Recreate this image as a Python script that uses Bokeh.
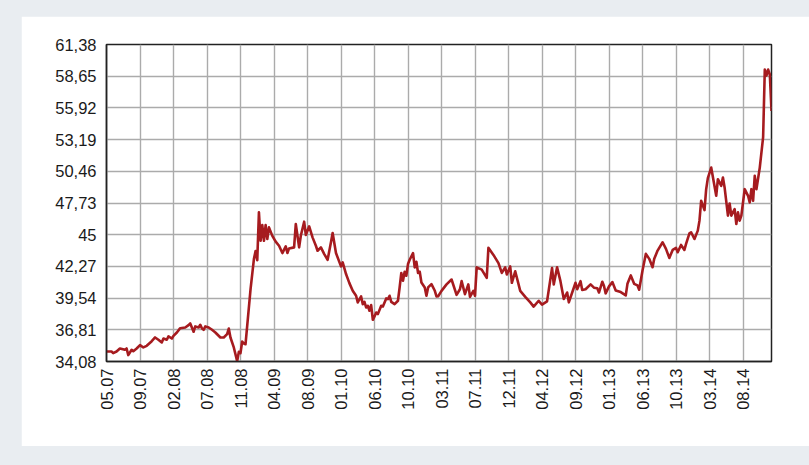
from bokeh.plotting import figure
from bokeh.models import FixedTicker, Range1d
from bokeh.embed import file_html
from bokeh.resources import INLINE
import math

# week index of each reading
weeks = [0, 3, 4, 6, 8, 11, 12, 13, 15, 16, 18, 20, 22, 24, 27, 29, 31, 33, 34, 36,
         37, 39, 40, 42, 44, 47, 49, 50, 52, 53, 55, 56, 57, 58, 59, 61, 63, 65, 68, 70,
         72, 73, 74, 76, 78, 79, 80, 81, 82, 83, 86, 88, 89, 90, 91, 92, 93, 94, 95, 96,
         97, 99, 101, 103, 105, 107, 108, 109, 112, 113, 115, 116, 118, 119, 121, 123, 125, 126, 128, 130,
         132, 134, 135, 137, 140, 141, 143, 145, 147, 149, 150, 152, 153, 154, 155, 156, 157, 158, 159, 160,
         161, 162, 164, 165, 167, 168, 169, 170, 172, 174, 175, 176, 177, 178, 179, 180, 181, 183, 184, 185,
         186, 187, 188, 190, 191, 192, 194, 196, 197, 198, 200, 203, 206, 209, 211, 212, 214, 216, 217, 219,
         220, 221, 224, 227, 228, 231, 234, 236, 238, 239, 241, 242, 244, 247, 250, 253, 255, 258, 260, 263,
         266, 267, 269, 271, 273, 275, 276, 280, 281, 283, 284, 286, 289, 291, 293, 294, 296, 297, 298, 300,
         302, 304, 307, 310, 311, 313, 315, 317, 318, 320, 322, 324, 326, 327, 329, 332, 334, 336, 338, 340,
         341, 343, 345, 346, 348, 349, 351, 353, 354, 355, 357, 358, 359, 361, 364, 365, 367, 368, 369, 371,
         372, 373, 375, 376, 377, 378, 379, 381, 383, 384, 385, 386, 387, 388, 390, 392, 393, 394, 395, 396,
         397]

prices = [34.94, 34.94, 34.80, 34.94, 35.20, 35.09, 35.20, 34.63, 35.09, 34.97, 35.20, 35.49, 35.29, 35.43, 35.83, 36.15, 35.95, 35.72, 36.06, 35.95,
          36.24, 36.06, 36.29, 36.58, 36.95, 37.01, 37.21, 37.36, 36.64, 37.10, 37.01, 37.24, 36.92, 36.81, 37.10, 37.01, 36.81, 36.58, 36.15, 36.15,
          36.44, 36.92, 36.15, 35.29, 34.11, 34.91, 34.80, 35.80, 35.63, 35.57, 40.32, 42.90, 43.60, 42.80, 46.92, 44.48, 45.83, 44.48, 45.83, 44.63,
          45.63, 44.90, 44.40, 44.05, 43.42, 43.99, 43.42, 43.82, 43.91, 45.92, 43.91, 44.91, 46.12, 44.97, 45.72, 44.77, 44.05, 43.62, 43.91, 43.33,
          42.84, 44.34, 45.14, 43.42, 42.27, 42.61, 41.61, 40.83, 40.17, 39.74, 39.17, 39.68, 39.02, 39.22, 38.73, 38.88, 38.45, 38.94, 37.67, 37.96,
          38.30, 38.16, 38.88, 38.82, 39.51, 39.45, 39.74, 39.22, 39.02, 39.31, 40.46, 41.70, 41.03, 41.81, 41.47, 42.47, 42.84, 43.42, 42.18, 42.67,
          41.70, 41.81, 40.89, 40.46, 39.74, 40.46, 40.75, 40.17, 39.68, 39.70, 40.16, 40.72, 41.14, 39.82, 40.30, 41.00, 39.88, 40.72, 39.65, 40.16,
          39.74, 42.19, 41.99, 41.28, 43.87, 43.26, 42.55, 41.71, 42.19, 41.57, 42.27, 40.86, 41.85, 40.16, 39.65, 39.17, 38.81, 39.31, 38.98, 39.26,
          42.13, 40.72, 42.19, 41.00, 39.46, 40.02, 39.17, 40.86, 40.30, 41.00, 40.24, 40.30, 40.72, 40.44, 40.38, 40.02, 40.95, 40.58, 39.95, 40.55,
          40.92, 40.20, 40.06, 39.77, 40.77, 41.49, 40.77, 40.63, 40.26, 41.92, 43.35, 42.92, 42.20, 42.92, 43.63, 44.35, 43.78, 43.00, 43.69, 43.86,
          43.49, 44.12, 43.69, 44.21, 45.12, 45.21, 44.63, 45.35, 46.21, 47.92, 47.12, 48.92, 49.87, 50.78, 48.35, 49.78, 49.21, 49.93, 49.07, 46.64,
          47.69, 46.64, 47.21, 45.92, 46.92, 46.21, 46.64, 48.92, 48.35, 47.78, 48.92, 47.92, 50.07, 48.92, 50.78, 53.40, 59.22, 58.70, 59.22, 58.80,
          55.65]

x_ticks = [0, 20, 40, 60, 80, 100, 120, 140, 160, 180, 200, 220, 240, 260, 280, 300, 320, 340, 360, 380]
x_labels = ["05.07", "09.07", "02.08", "07.08", "11.08", "04.09", "08.09", "01.10", "06.10", "10.10",
            "03.11", "07.11", "12.11", "04.12", "09.12", "01.13", "06.13", "10.13", "03.14", "08.14"]
y_ticks = [34.08, 36.81, 39.54, 42.27, 45.0, 47.73, 50.46, 53.19, 55.92, 58.65, 61.38]
y_labels = ["34,08", "36,81", "39,54", "42,27", "45", "47,73", "50,46", "53,19", "55,92", "58,65", "61,38"]
x_end = 397

FONT = "Liberation Sans"

p = figure(width=788, height=430, output_backend="svg", toolbar_location=None,
           x_range=Range1d(0, x_end), y_range=Range1d(y_ticks[0], y_ticks[-1]),
           min_border_left=85, min_border_right=38, min_border_top=28, min_border_bottom=85)
p.margin = (16, 0, 0, 21)
p.background_fill_color = "white"
p.border_fill_color = "white"
p.outline_line_color = "#222222"
p.outline_line_width = 1.5

p.line(weeks, prices, line_color="#a61b1f", line_width=2.6, line_join="round")

p.xaxis.ticker = FixedTicker(ticks=x_ticks)
p.xaxis.major_label_overrides = {t: l for t, l in zip(x_ticks, x_labels)}
p.xaxis.major_label_orientation = math.pi / 2
p.yaxis.ticker = FixedTicker(ticks=y_ticks)
p.yaxis.major_label_overrides = {t: l for t, l in zip(y_ticks, y_labels)}

for ax in (p.xaxis[0], p.yaxis[0]):
    ax.major_tick_line_color = None
    ax.minor_tick_line_color = None
    ax.major_tick_out = 0
    ax.major_tick_in = 0
    ax.axis_line_color = "#222222"
    ax.axis_line_width = 1.5
    ax.major_label_text_font = FONT
    ax.major_label_text_font_size = "16.5px"
    ax.major_label_text_color = "#1a1a1a"
p.xaxis.major_label_standoff = 7
p.yaxis.major_label_standoff = 10

p.xgrid.ticker = FixedTicker(ticks=x_ticks)
p.ygrid.ticker = FixedTicker(ticks=y_ticks)
p.grid.grid_line_color = "#ababab"
p.grid.grid_line_width = 1.4

html = file_html(p, INLINE)
html = html.replace("</head>", "<style>html,body{background:#e9edf1;margin:0;padding:0;}</style></head>", 1)
open("out.html", "w").write(html)
